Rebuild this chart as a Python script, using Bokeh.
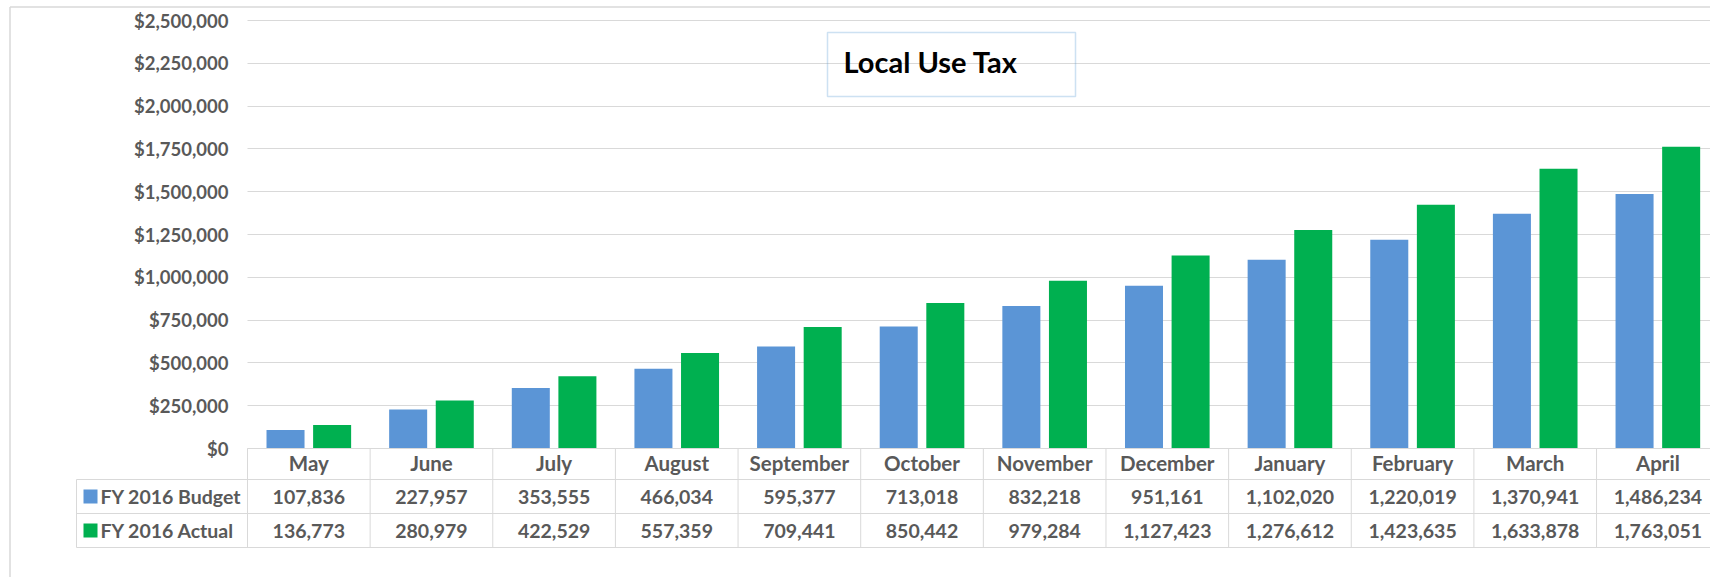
from bokeh.plotting import figure
from bokeh.models import Range1d, FixedTicker, NumeralTickFormatter, BoxAnnotation, Label, ColumnDataSource
from bokeh.transform import dodge
from bokeh.core.properties import value
from bokeh.embed import file_html
from bokeh.resources import INLINE

# ---------------- data ----------------
months = ["May", "June", "July", "August", "September", "October", "November",
          "December", "January", "February", "March", "April"]
budget = [107836, 227957, 353555, 466034, 595377, 713018, 832218, 951161,
          1102020, 1220019, 1370941, 1486234]
actual = [136773, 280979, 422529, 557359, 709441, 850442, 979284, 1127423,
          1276612, 1423635, 1633878, 1763051]
series_names = ["FY 2016 Budget", "FY 2016 Actual"]
y_ticks = [0, 250000, 500000, 750000, 1000000, 1250000, 1500000, 1750000,
           2000000, 2250000, 2500000]
title_text = "Local Use Tax"

# ---------------- style / layout (page pixel geometry) ----------------
FONT = "Lato"
GRAY = "#595959"
LINE = "#d9d9d9"
BLUE = "#5b95d6"
GREEN = "#00b050"
BOX = "#5b9bd5"

W, H = 1710, 577          # figure size; Bokeh's page template has no body margin
PAGE0 = 0
CW = 122.64               # pixels per category column
ORIGIN_X = 247            # page x where category 0 starts
ZERO_Y = 448              # page y of value 0
TOP_Y = 20                # page y of top tick
YMAX = y_ticks[-1]


def px_x(page_x):
    return (page_x - ORIGIN_X) / CW


def px_y(page_y):
    return (ZERO_Y - page_y) * YMAX / (ZERO_Y - TOP_Y)


X0, X1 = px_x(PAGE0), px_x(PAGE0 + W)
Y0, Y1 = px_y(PAGE0 + H), px_y(PAGE0)

idx = list(range(len(months)))
centers = [i + 0.5 for i in idx]
src = ColumnDataSource(dict(x=centers, budget=budget, actual=actual))

p = figure(width=W, height=H, x_range=Range1d(X0, X1), y_range=Range1d(Y0, Y1),
           min_border=0, min_border_left=0, min_border_right=0, min_border_top=0,
           min_border_bottom=0, toolbar_location=None, output_backend="svg",
           outline_line_color=None)

# gridlines only across the plot columns
grid_ok = False
try:
    p.ygrid[0].cross_bounds = (0, X1)
    grid_ok = True
except Exception:
    grid_ok = False
p.xgrid.visible = False
if grid_ok:
    p.ygrid.grid_line_color = LINE
    p.ygrid.grid_line_width = 1
else:
    p.ygrid.visible = False
    p.segment(x0=[0] * len(y_ticks), x1=[X1] * len(y_ticks), y0=y_ticks, y1=y_ticks,
              line_color=LINE, line_width=1)

# bars
p.vbar(x=dodge("x", -0.19), top="budget", width=0.31, source=src,
       fill_color=BLUE, line_color=None)
p.vbar(x=dodge("x", 0.19), top="actual", width=0.31, source=src,
       fill_color=GREEN, line_color=None)

# y axis (labels pulled into the frame)
ya = p.yaxis[0]
ya.ticker = FixedTicker(ticks=y_ticks)
ya.formatter = NumeralTickFormatter(format="$0,0")
ya.axis_line_color = None
ya.major_tick_line_color = None
ya.minor_tick_line_color = None
ya.major_tick_out = 0
ya.major_tick_in = 0
ya.major_label_standoff = -(228 - PAGE0)
ya.major_label_text_font = FONT
ya.major_label_text_font_style = "bold"
ya.major_label_text_font_size = "18.5px"
ya.major_label_text_color = GRAY

# x axis (month labels pulled up into the header row)
xa = p.xaxis[0]
xa.ticker = FixedTicker(ticks=centers, minor_ticks=[])
xa.major_label_overrides = {c: m for c, m in zip(centers, months)}
xa.axis_line_color = None
xa.major_tick_line_color = None
xa.minor_tick_line_color = None
xa.major_tick_out = 0
xa.major_tick_in = 0
xa.major_label_standoff = 450 - (PAGE0 + H)
xa.major_label_text_font = FONT
xa.major_label_text_font_style = "bold"
xa.major_label_text_font_size = "20.5px"
xa.major_label_text_color = GRAY

# ---------------- data table under the chart ----------------
HDR_TOP, ROW1, ROW2, ROW3 = px_y(448), px_y(479), px_y(513), px_y(547)
legend_left = px_x(76)
ncols = len(months) + 1
p.segment(x0=[0, legend_left, legend_left, legend_left], x1=[X1] * 4,
          y0=[HDR_TOP, ROW1, ROW2, ROW3], y1=[HDR_TOP, ROW1, ROW2, ROW3],
          line_color=LINE, line_width=1)
p.segment(x0=[legend_left], x1=[legend_left], y0=[ROW1], y1=[ROW3],
          line_color=LINE, line_width=1)
p.segment(x0=list(range(ncols)), x1=list(range(ncols)),
          y0=[HDR_TOP] * ncols, y1=[ROW3] * ncols, line_color=LINE, line_width=1)

row_y = [(ROW1 + ROW2) / 2, (ROW2 + ROW3) / 2]
p.scatter(x=[px_x(90)] * 2, y=row_y, marker="square", size=14,
          fill_color=[BLUE, GREEN], line_color=None)
p.text(x=[px_x(100)] * 2, y=row_y, text=series_names, text_font=value(FONT),
       text_font_style="bold", text_font_size="19.5px", text_color=GRAY,
       text_baseline="middle", text_align="left")
p.text(x=centers, y=[row_y[0]] * len(months), text=[f"{v:,}" for v in budget],
       text_font=value(FONT), text_font_style="bold", text_font_size="19.5px",
       text_color=GRAY, text_baseline="middle", text_align="center")
p.text(x=centers, y=[row_y[1]] * len(months), text=[f"{v:,}" for v in actual],
       text_font=value(FONT), text_font_style="bold", text_font_size="19.5px",
       text_color=GRAY, text_baseline="middle", text_align="center")

# outer chart-area border (left and top edges visible)
p.segment(x0=[px_x(9.5), px_x(9.5)], x1=[px_x(9.5), X1],
          y0=[Y0, px_y(6.5)], y1=[px_y(6.5), px_y(6.5)],
          line_color=LINE, line_width=1.5)

# title box
p.add_layout(BoxAnnotation(left=px_x(827), right=px_x(1075), top=px_y(32), bottom=px_y(96),
                           fill_alpha=0, line_color=BOX, line_width=1.5))
p.add_layout(Label(x=px_x(843), y=px_y(61), text=title_text, text_font=FONT,
                   text_font_style="bold", text_font_size="29px", text_color="black",
                   text_baseline="middle", text_align="left"))

open("out.html", "w").write(file_html(p, INLINE))
